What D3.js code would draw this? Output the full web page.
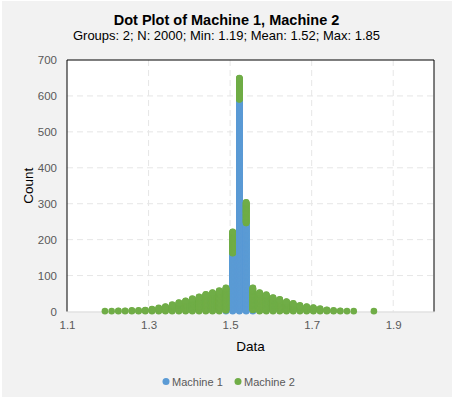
<!DOCTYPE html>
<html>
<head>
<meta charset="utf-8">
<script src="https://cdn.jsdelivr.net/npm/d3@7"></script>
<style>
  body { margin: 0; background: #fff; }
  text { font-family: Arial, "Liberation Sans", sans-serif; }
</style>
</head>
<body>
<div id="chart"></div>
<script>
// dot plot data: counts per bin, bins start at binStart and step binWidth
var binStart = 1.193;
var binWidth = 0.01649;
var seriesNames = ["Machine 1", "Machine 2"];
var seriesColors = ["#5B9BD5", "#70AD47"];
var machine1 = [0,0,0,0,0,0,0,0,0,0,0,0,0,0,0,0,0,0,2,161,589,245,3,0,0,0,0,0,0,0,0,0,0,0,0,0,0,0,0,0,0];
var machine2 = [1,1,2,2,3,3,4,7,10,14,19,25,30,36,41,48,53,58,64,61,61,59,63,53,47,39,34,28,23,17,14,11,8,5,3,2,1,1,0,0,1];
var xTicks = [1.1, 1.3, 1.5, 1.7, 1.9];
var yTicks = [0, 100, 200, 300, 400, 500, 600, 700];
var titleText = "Dot Plot of Machine 1, Machine 2";
var subtitleText = "Groups: 2; N: 2000; Min: 1.19; Mean: 1.52; Max: 1.85";

var W = 453, H = 399;
var margin = {top: 60, right: 19, bottom: 87.5, left: 67};
var width = W - margin.left - margin.right;
var height = H - margin.top - margin.bottom;

var svg = d3.select("#chart").append("svg")
    .attr("width", W).attr("height", H);

svg.append("rect").attr("x", 2).attr("y", 1).attr("width", W - 3).attr("height", H - 3)
    .attr("fill", "#f2f2f2");

svg.append("text").attr("x", W/2).attr("y", 25).attr("text-anchor", "middle")
    .style("font-size", "14.5px").style("font-weight", "bold").attr("fill", "#000")
    .text(titleText);
svg.append("text").attr("x", W/2).attr("y", 40).attr("text-anchor", "middle")
    .style("font-size", "13px").attr("fill", "#000")
    .text(subtitleText);

var g = svg.append("g").attr("transform", "translate(" + margin.left + "," + margin.top + ")");

var x = d3.scaleLinear().domain([1.1, 2.0]).range([0, width]);
var y = d3.scaleLinear().domain([0, 700]).range([height, 0]);

g.append("rect").attr("width", width).attr("height", height).attr("fill", "#fff");

// grid
g.selectAll(".hgrid").data(yTicks.filter(function(d) { return d > 0 && d < 700; }))
  .enter().append("line")
    .attr("x1", 0).attr("x2", width)
    .attr("y1", function(d) { return y(d); }).attr("y2", function(d) { return y(d); })
    .attr("stroke", "#e6e6e6").attr("stroke-dasharray", "6,4");
g.selectAll(".vgrid").data(xTicks.filter(function(d) { return d > 1.1; }))
  .enter().append("line")
    .attr("y1", 0).attr("y2", height)
    .attr("x1", function(d) { return x(d); }).attr("x2", function(d) { return x(d); })
    .attr("stroke", "#e6e6e6").attr("stroke-dasharray", "6,4");

// axes
var xAxis = d3.axisBottom(x).tickValues(xTicks).tickSize(0).tickPadding(9)
    .tickFormat(d3.format(".1f"));
var yAxis = d3.axisLeft(y).tickValues(yTicks).tickSize(0).tickPadding(10);
var gx = g.append("g").attr("transform", "translate(0," + height + ")").call(xAxis);
var gy = g.append("g").call(yAxis);
gx.select(".domain").attr("stroke", "#d9d9d9");
gy.select(".domain").remove();
[gx, gy].forEach(function(a) {
  a.selectAll("text").style("font-size", "11.5px").attr("fill", "#595959")
    .style("font-family", "Arial, 'Liberation Sans', sans-serif");
});

// frame: black left, top, right
g.append("path").attr("d", "M0," + height + "V0H" + width + "V" + height)
    .attr("fill", "none").attr("stroke", "#000").attr("stroke-width", 1);

// dots
var r = 3.3;
var dots = [];
machine1.forEach(function(c, i) {
  for (var k = 1; k <= c; k++) dots.push({bin: i, level: k, s: 0});
});
machine2.forEach(function(c, i) {
  for (var k = 1; k <= c; k++) dots.push({bin: i, level: machine1[i] + k, s: 1});
});
g.append("g").selectAll("circle").data(dots).enter().append("circle")
    .attr("cx", function(d) { return x(binStart + d.bin * binWidth); })
    .attr("cy", function(d) { return y(d.level); })
    .attr("r", r)
    .attr("fill", function(d) { return seriesColors[d.s]; });

// axis titles
svg.append("text").attr("text-anchor", "middle")
    .attr("transform", "translate(33," + (margin.top + height/2) + ")rotate(-90)")
    .style("font-size", "13.5px").attr("fill", "#000").text("Count");
svg.append("text").attr("x", margin.left + width/2).attr("y", 351).attr("text-anchor", "middle")
    .style("font-size", "13.5px").attr("fill", "#000").text("Data");

// legend
var legendX = [166, 238];
seriesNames.forEach(function(name, i) {
  svg.append("circle").attr("cx", legendX[i]).attr("cy", 381.5).attr("r", 3.5)
      .attr("fill", seriesColors[i]);
  svg.append("text").attr("x", legendX[i] + 6).attr("y", 385.5)
      .style("font-size", "11px").attr("fill", "#595959").text(name);
});
</script>
</body>
</html>
